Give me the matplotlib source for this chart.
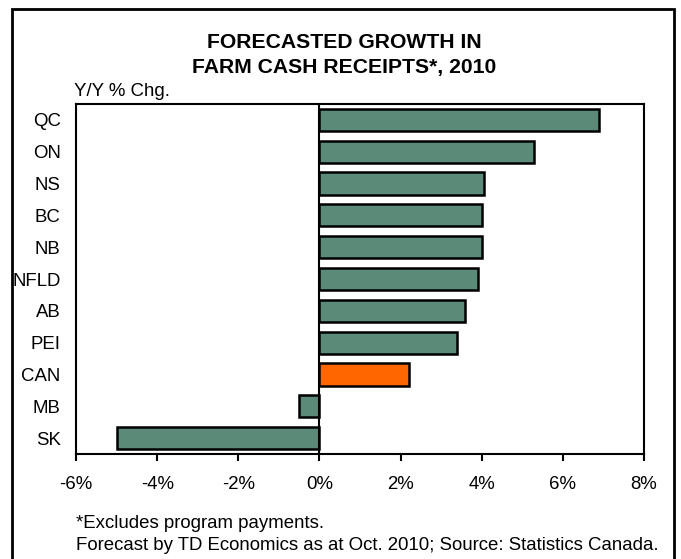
import matplotlib.pyplot as plt
from matplotlib.patches import Rectangle
from matplotlib.ticker import FuncFormatter

plt.rcParams['font.family'] = ['Liberation Sans', 'DejaVu Sans']

provinces = ['QC', 'ON', 'NS', 'BC', 'NB', 'NFLD', 'AB', 'PEI', 'CAN', 'MB', 'SK']
growth = [6.9, 5.3, 4.05, 4.0, 4.0, 3.9, 3.6, 3.4, 2.2, -0.5, -5.0]
x_ticks = [-6, -4, -2, 0, 2, 4, 6, 8]

green = '#5b8a78'
orange = '#ff6600'
colors = [orange if p == 'CAN' else green for p in provinces]

fig = plt.figure(figsize=(6.81, 5.59), dpi=100)
ax = fig.add_axes([76 / 681, 1 - 454 / 559, 568 / 681, 350 / 559])

ypos = list(range(len(provinces)))
ax.barh(ypos, growth, height=0.7, color=colors, edgecolor='black', linewidth=1.8, zorder=2)
ax.axvline(0, color='black', linewidth=1.5, zorder=3)

ax.set_xlim(-6, 8)
ax.set_ylim(len(provinces) - 0.5, -0.5)
ax.set_xticks(x_ticks)
ax.xaxis.set_major_formatter(FuncFormatter(lambda v, pos: '%d%%' % v))
ax.set_yticks(ypos)
ax.set_yticklabels(provinces)
ax.tick_params(axis='x', direction='out', length=5, width=1.5, labelsize=13.4, pad=11)
ax.tick_params(axis='y', length=0, labelsize=13.4, pad=11)
for s in ax.spines.values():
    s.set_linewidth(1.5)

# titles and notes
fig.text(344 / 681, 1 - 42 / 559, 'FORECASTED GROWTH IN', ha='center', va='center',
         fontsize=15.2, fontweight='bold')
fig.text(344 / 681, 1 - 68 / 559, 'FARM CASH RECEIPTS*, 2010', ha='center', va='center',
         fontsize=15.2, fontweight='bold')
fig.text(74 / 681, 1 - 92 / 559, 'Y/Y % Chg.', ha='left', va='center', fontsize=13.4)
fig.text(76 / 681, 1 - 523 / 559, '*Excludes program payments.', ha='left', va='center', fontsize=13.4)
fig.text(76 / 681, 1 - 546 / 559, 'Forecast by TD Economics as at Oct. 2010; Source: Statistics Canada.',
         ha='left', va='center', fontsize=13.4)

# outer frame
fig.patches.append(Rectangle((12 / 681, -0.05), 662 / 681, 1.05 - 9 / 559,
                             transform=fig.transFigure, fill=False,
                             edgecolor='black', linewidth=2))

fig.savefig('out.png', dpi=100)
